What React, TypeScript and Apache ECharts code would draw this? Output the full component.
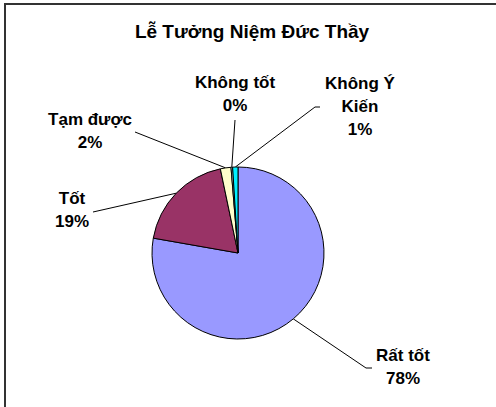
import React, { useEffect, useRef } from "react";
import * as echarts from "echarts";

const titleText = "Lễ Tưởng Niệm Đức Thầy";
const categories = ["Rất tốt", "Tốt", "Tạm được", "Không tốt", "Không Ý Kiến"];
const displayNames = ["Rất tốt", "Tốt", "Tạm được", "Không tốt", "Không Ý\nKiến"];
const values = [78, 19, 2, 0.3, 1];
const colors = ["#9999FF", "#993366", "#FFFFCC", "#CCFFFF", "#00F0FF"];

// label block centres and leader-line end points (layout only)
const labelPos = [
  { x: 403, y: 367, line: [[366, 368], [372, 368]] },
  { x: 72, y: 210, line: [[93, 212]] },
  { x: 90, y: 131, line: [[135, 132]] },
  { x: 235, y: 94, line: [[235, 120]] },
  { x: 360, y: 106, line: [[315, 107], [320, 107]] },
];

export default function App() {
  const ref = useRef<HTMLDivElement>(null);
  useEffect(() => {
    if (!ref.current) return;
    const chart = echarts.init(ref.current, undefined, { renderer: "svg" });
    const font = "'Liberation Sans', Arial, sans-serif";
    chart.setOption({
      animation: false,
      backgroundColor: "#fff",
      graphic: [
        {
          type: "polyline",
          shape: { points: [[5, 420], [5, 4], [500, 4]] },
          style: { stroke: "#333", lineWidth: 2, fill: "none" },
          silent: true,
        },
        {
          type: "text",
          x: 252,
          y: 31,
          style: {
            text: titleText,
            fontFamily: font,
            fontWeight: "bold",
            fontSize: 19,
            fill: "#000",
            textAlign: "center",
            textVerticalAlign: "middle",
          },
        },
      ],
      series: [
        {
          type: "pie",
          center: [238, 253],
          radius: 86,
          startAngle: 90,
          clockwise: true,
          avoidLabelOverlap: false,
          itemStyle: { borderColor: "#000", borderWidth: 1 },
          label: {
            show: true,
            position: "outside",
            fontFamily: font,
            fontWeight: "bold",
            fontSize: 17,
            lineHeight: 23,
            color: "#000",
            align: "center",
            formatter: (p: any) =>
              `${displayNames[p.dataIndex]}\n${Math.round(p.percent)}%`,
          },
          labelLine: {
            show: true,
            length: 10,
            length2: 10,
            lineStyle: { color: "#000", width: 1 },
          },
          labelLayout: (params: any) => {
            const lp = labelPos[params.dataIndex];
            const anchor = params.labelLinePoints
              ? params.labelLinePoints[0]
              : [238, 167];
            return {
              x: lp.x,
              y: lp.y,
              align: "center",
              verticalAlign: "middle",
              labelLinePoints: [anchor, ...lp.line],
            };
          },
          emphasis: { disabled: true },
          data: categories.map((name, i) => ({
            name,
            value: values[i],
            itemStyle: { color: colors[i] },
          })),
        },
      ],
    });
    return () => chart.dispose();
  }, []);
  return (
    <div
      ref={ref}
      style={{ position: "fixed", left: 0, top: 0, width: 496, height: 407 }}
    />
  );
}
